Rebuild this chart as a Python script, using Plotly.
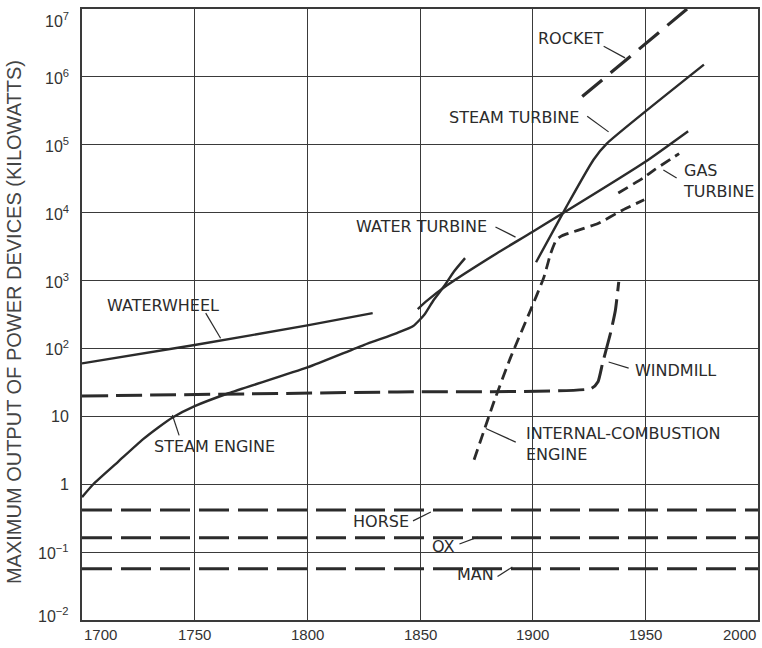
import plotly.graph_objects as go

# ---------------- data (year, log10 of kW) ----------------
steam_engine_year = [1700, 1705, 1716, 1727, 1734, 1740, 1750, 1765, 1800, 1825, 1840, 1847, 1852, 1856, 1861, 1865, 1870]
steam_engine_log = [-0.19, 0.0, 0.33, 0.66, 0.84, 0.98, 1.15, 1.34, 1.72, 2.05, 2.23, 2.33, 2.50, 2.71, 2.93, 3.13, 3.33]

waterwheel_year = [1700, 1750, 1800, 1829]
waterwheel_log = [1.78, 2.05, 2.34, 2.52]

water_turbine_year = [1849, 1853, 1862, 1884, 1900, 1950, 1969]
water_turbine_log = [2.58, 2.70, 2.93, 3.40, 3.72, 4.75, 5.20]

steam_turbine_year = [1901.5, 1915, 1927, 1933, 1976]
steam_turbine_log = [3.27, 4.09, 4.78, 5.02, 6.18]

rocket_year = [1922, 1968.5]
rocket_log = [5.71, 7.0]

gas_turbine_year = [1938, 1949, 1954, 1965]
gas_turbine_log = [4.29, 4.51, 4.63, 4.87]

ice_year = [1874, 1883, 1890, 1899, 1905, 1908, 1910.5, 1913, 1920, 1929, 1940, 1949.5]
ice_log = [0.36, 1.23, 1.85, 2.56, 3.05, 3.40, 3.60, 3.66, 3.74, 3.84, 4.04, 4.19]

windmill_year = [1700, 1840, 1926, 1929, 1931, 1934.5, 1936.7, 1938.2]
windmill_log = [1.30, 1.36, 1.41, 1.51, 1.78, 2.22, 2.56, 2.98]

animal_years = [1700, 2000]
horse_log = -0.38
ox_log = -0.79
man_log = -1.245

x_tick_vals = [1700, 1750, 1800, 1850, 1900, 1950, 2000]
x_tick_text = ["1700", "1750", "1800", "1850", "1900", "1950", "2000"]
y_tick_exp = [7, 6, 5, 4, 3, 2, 1, 0, -1, -2]
y_tick_text = ["10<sup>7</sup>", "10<sup>6</sup>", "10<sup>5</sup>", "10<sup>4</sup>", "10<sup>3</sup>",
               "10<sup>2</sup>", "10", "1", "10<sup>−1</sup>", "10<sup>−2</sup>"]

# curve labels: text, year, log10, anchor
labels = [
    ("ROCKET", 1916.8, 6.56, "center"),
    ("STEAM TURBINE", 1891.7, 5.40, "center"),
    ("GAS<br>TURBINE", 1965.7, 4.47, "left"),
    ("WATER TURBINE", 1850.8, 3.80, "center"),
    ("WATERWHEEL", 1736.0, 2.64, "center"),
    ("WINDMILL", 1963.5, 1.68, "center"),
    ("STEAM ENGINE", 1759.0, 0.56, "center"),
    ("INTERNAL-COMBUSTION<br>ENGINE", 1896.3, 0.59, "left"),
    ("HORSE", 1832.7, -0.55, "center"),
    ("OX", 1860.5, -0.91, "center"),
    ("MAN", 1874.7, -1.33, "center"),
]
# leader lines (year0, log0, year1, log1)
leaders = [
    (1931.5, 6.45, 1941.0, 6.28),
    (1924.2, 5.42, 1933.7, 5.19),
    (1958.0, 4.63, 1963.9, 4.51),
    (1883.5, 3.79, 1892.4, 3.64),
    (1754.9, 2.52, 1761.5, 2.15),
    (1743.1, 0.72, 1740.1, 1.02),
    (1942.6, 1.71, 1933.7, 1.80),
    (1892.5, 0.62, 1879.2, 0.82),
    (1846.9, -0.54, 1854.8, -0.41),
    (1867.5, -0.88, 1875.6, -0.78),
    (1884.4, -1.36, 1891.0, -1.22),
]

LINE = "#2b2b2b"
GRID = "#3a3a3a"
FONT = "DejaVu Sans"

fig = go.Figure()


def add(xs, ys, dash="solid", width=2.4, smooth=0.5):
    fig.add_trace(go.Scatter(x=xs, y=[10 ** v for v in ys], mode="lines",
                             line=dict(color=LINE, width=width, dash=dash, shape="spline", smoothing=smooth),
                             showlegend=False, hoverinfo="skip"))


add(waterwheel_year, waterwheel_log)
add(steam_engine_year, steam_engine_log)
add(water_turbine_year, water_turbine_log)
add(steam_turbine_year, steam_turbine_log)
add(rocket_year, rocket_log, dash="26px,11px", width=3.2)
add(gas_turbine_year, gas_turbine_log, dash="11px,6px", width=2.8)
add(ice_year, ice_log, dash="11px,6px", width=2.8)
add(windmill_year, windmill_log, dash="26px,8px", width=3.0)
for v in (horse_log, ox_log, man_log):
    add(animal_years, [v, v], dash="30px,9px", width=3.0)

ann = []
for t, x, y, a in labels:
    ann.append(dict(x=x, y=y, xref="x", yref="y", text=t, showarrow=False, xanchor=a, yanchor="middle",
                    align="left", font=dict(family=FONT, size=16, color="#2b2b2b")))
for x0, y0, x1, y1 in leaders:
    fig.add_shape(type="line", x0=x0, y0=10 ** y0, x1=x1, y1=10 ** y1, xref="x", yref="y",
                  line=dict(color=LINE, width=1.2))

# x tick labels (first / last pulled inside the frame)
for v, t in zip(x_tick_vals, x_tick_text):
    xa = "center"
    if v == x_tick_vals[0]:
        xa = "left"
    elif v == x_tick_vals[-1]:
        xa = "right"
    ann.append(dict(x=v, y=0, xref="x", yref="paper", yanchor="top", yshift=-4, xanchor=xa,
                    text=t, showarrow=False, font=dict(family="Liberation Sans", size=15, color="#333")))
# y tick labels
for e, t in zip(y_tick_exp, y_tick_text):
    ys = 0
    if e == y_tick_exp[0]:
        ys = -11
    elif e == y_tick_exp[-1]:
        ys = 5
    ann.append(dict(x=0, y=e, xref="paper", yref="y", xanchor="right", yanchor="middle", xshift=-11, yshift=ys,
                    text=t, showarrow=False, font=dict(family="Liberation Sans", size=16, color="#333")))
ann.append(dict(x=-0.1005, y=0.4877, xref="paper", yref="paper", xanchor="center", yanchor="middle",
                textangle=-90, showarrow=False,
                text="MAXIMUM OUTPUT OF POWER DEVICES (KILOWATTS)",
                font=dict(family="Liberation Sans", size=20, color="#444")))

fig.update_layout(
    width=762, height=648, margin=dict(l=82, r=2, t=9, b=28),
    paper_bgcolor="white", plot_bgcolor="white",
    annotations=ann,
    xaxis=dict(range=[1700, 2000], tickvals=x_tick_vals, showticklabels=False, ticks="",
               showgrid=True, gridcolor=GRID, gridwidth=1, zeroline=False,
               showline=True, linecolor=GRID, linewidth=1.5, mirror=True),
    yaxis=dict(type="log", range=[-2, 7], tickvals=[10 ** e for e in y_tick_exp], showticklabels=False,
               ticks="", showgrid=True, gridcolor=GRID, gridwidth=1, zeroline=False,
               showline=True, linecolor=GRID, linewidth=1.5, mirror=True),
)

fig.write_html("out.html", config={"displayModeBar": False},
               post_script="document.body.style.margin='0';document.body.style.overflow='hidden';")
